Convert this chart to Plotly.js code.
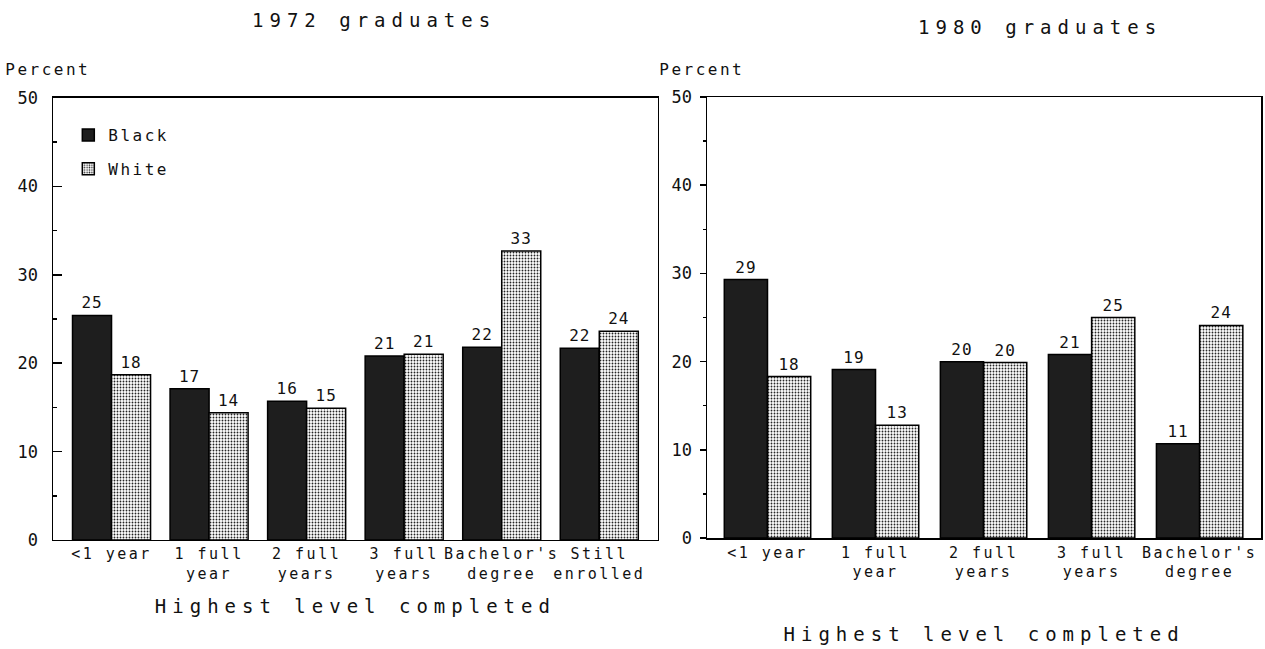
<!DOCTYPE html>
<html>
<head>
<meta charset="utf-8">
<script src="https://cdn.plot.ly/plotly-3.0.1.min.js"></script>
<style>
  html, body { margin: 0; padding: 0; background: #fff; }
  #chart { width: 1265px; height: 649px; }
  .xtitle, .x2title { letter-spacing: 6px; }
  .annotation[data-index="0"] text, .annotation[data-index="1"] text { letter-spacing: 6px; }
  .annotation[data-index="2"] text, .annotation[data-index="3"] text { letter-spacing: 2.5px; }
  .xtick text, .x2tick text { letter-spacing: 2.5px; }
  .legendtext { letter-spacing: 2.5px; }
  .bartext { letter-spacing: 1px; }
</style>
</head>
<body>
<div id="chart"></div>
<script>
// ---- Data ----
const categories1972 = ["<1 year", "1 full<br>year", "2 full<br>years", "3 full<br>years", "Bachelor's<br>degree", "Still<br>enrolled"];
const black1972 = [25.4, 17.1, 15.7, 20.8, 21.8, 21.7];
const white1972 = [18.7, 14.4, 14.9, 21.0, 32.7, 23.6];
const blackLabels1972 = ["25", "17", "16", "21", "22", "22"];
const whiteLabels1972 = ["18", "14", "15", "21", "33", "24"];

const categories1980 = ["<1 year", "1 full<br>year", "2 full<br>years", "3 full<br>years", "Bachelor's<br>degree"];
const black1980 = [29.3, 19.1, 20.0, 20.8, 10.7];
const white1980 = [18.3, 12.8, 19.9, 25.0, 24.1];
const blackLabels1980 = ["29", "19", "20", "21", "11"];
const whiteLabels1980 = ["18", "13", "20", "25", "24"];

const yTicks = [0, 10, 20, 30, 40, 50];
const yMinorTicks = [5, 15, 25, 35, 45];

// ---- Styles ----
const FONT = "DejaVu Sans Mono";
const blackMarker = { color: "#1e1e1e", line: { color: "#000", width: 1.5 } };
const whiteMarker = {
  color: "#ffffff",
  line: { color: "#000", width: 1.5 },
  pattern: { shape: ".", fgcolor: "#222", bgcolor: "#fff", size: 3, solidity: 0.3 }
};
const labelFont = { family: FONT, size: 16, color: "#111" };

const traces = [
  { type: "bar", name: "Black", x: categories1972, y: black1972, text: blackLabels1972,
    textposition: "outside", textfont: labelFont, cliponaxis: false,
    marker: blackMarker, xaxis: "x", yaxis: "y", legendgroup: "b", hoverinfo: "skip" },
  { type: "bar", name: "White", x: categories1972, y: white1972, text: whiteLabels1972,
    textposition: "outside", textfont: labelFont, cliponaxis: false,
    marker: whiteMarker, xaxis: "x", yaxis: "y", legendgroup: "w", hoverinfo: "skip" },
  { type: "bar", name: "Black", x: categories1980, y: black1980, text: blackLabels1980,
    textposition: "outside", textfont: labelFont, cliponaxis: false,
    marker: blackMarker, xaxis: "x2", yaxis: "y2", legendgroup: "b", showlegend: false, hoverinfo: "skip" },
  { type: "bar", name: "White", x: categories1980, y: white1980, text: whiteLabels1980,
    textposition: "outside", textfont: labelFont, cliponaxis: false,
    marker: whiteMarker, xaxis: "x2", yaxis: "y2", legendgroup: "w", showlegend: false, hoverinfo: "skip" }
];

const axisCommon = {
  showline: true, linecolor: "#000", linewidth: 1.5, mirror: true,
  showgrid: false, zeroline: false
};
const yCommon = Object.assign({}, axisCommon, {
  range: [0, 50], tickvals: yTicks, tickcolor: "#000", tickwidth: 1.5,
  tickfont: { family: FONT, size: 17, color: "#111" }
});
const xCommon = Object.assign({}, axisCommon, {
  type: "category", ticks: "", tickfont: { family: FONT, size: 15, color: "#111" }, tickangle: 0
});

const layout = {
  width: 1265, height: 649,
  margin: { l: 0, r: 0, t: 0, b: 0 },
  paper_bgcolor: "#fff", plot_bgcolor: "#fff",
  barmode: "group", bargap: 0.2, bargroupgap: 0,
  showlegend: true,
  legend: {
    x: 0.054, y: 0.818, xanchor: "left", yanchor: "top",
    font: { family: FONT, size: 16, color: "#111" },
    bgcolor: "rgba(0,0,0,0)", tracegroupgap: 10, traceorder: "grouped"
  },
  xaxis: Object.assign({}, xCommon, {
    domain: [0.0419, 0.520], range: [-0.6, 5.6], anchor: "y",
    title: { text: "Highest level completed", font: { family: FONT, size: 19, color: "#111" }, standoff: 17 }
  }),
  yaxis: Object.assign({}, yCommon, {
    domain: [0.168, 0.849], anchor: "x",
    ticks: "inside", ticklen: 9, ticklabelstandoff: 10,
    minor: { tickvals: yMinorTicks, ticks: "inside", ticklen: 4, tickcolor: "#000", tickwidth: 1.5 }
  }),
  xaxis2: Object.assign({}, xCommon, {
    domain: [0.5589, 0.997], range: [-0.56, 4.57], anchor: "y2",
    title: { text: "Highest level completed", font: { family: FONT, size: 19, color: "#111" }, standoff: 47 }
  }),
  yaxis2: Object.assign({}, yCommon, {
    domain: [0.171, 0.8505], anchor: "x2",
    ticks: "outside", ticklen: 6, ticklabelstandoff: 4,
    minor: { tickvals: yMinorTicks, ticks: "outside", ticklen: 3, tickcolor: "#000", tickwidth: 1.5 }
  }),
  annotations: [
    { text: "1972 graduates", xref: "paper", yref: "paper", x: 374 / 1265, y: 1 - 20 / 649,
      xanchor: "center", yanchor: "middle", showarrow: false,
      font: { family: FONT, size: 19, color: "#111" } },
    { text: "1980 graduates", xref: "paper", yref: "paper", x: 1040 / 1265, y: 1 - 27 / 649,
      xanchor: "center", yanchor: "middle", showarrow: false,
      font: { family: FONT, size: 19, color: "#111" } },
    { text: "Percent", xref: "paper", yref: "paper", x: 12 / 1265, y: 1 - 70 / 649,
      xanchor: "left", yanchor: "middle", showarrow: false,
      font: { family: FONT, size: 16, color: "#111" } },
    { text: "Percent", xref: "paper", yref: "paper", x: 666 / 1265, y: 1 - 70 / 649,
      xanchor: "left", yanchor: "middle", showarrow: false,
      font: { family: FONT, size: 16, color: "#111" } }
  ]
};

Plotly.newPlot("chart", traces, layout, { displayModeBar: false, staticPlot: true });
</script>
</body>
</html>
